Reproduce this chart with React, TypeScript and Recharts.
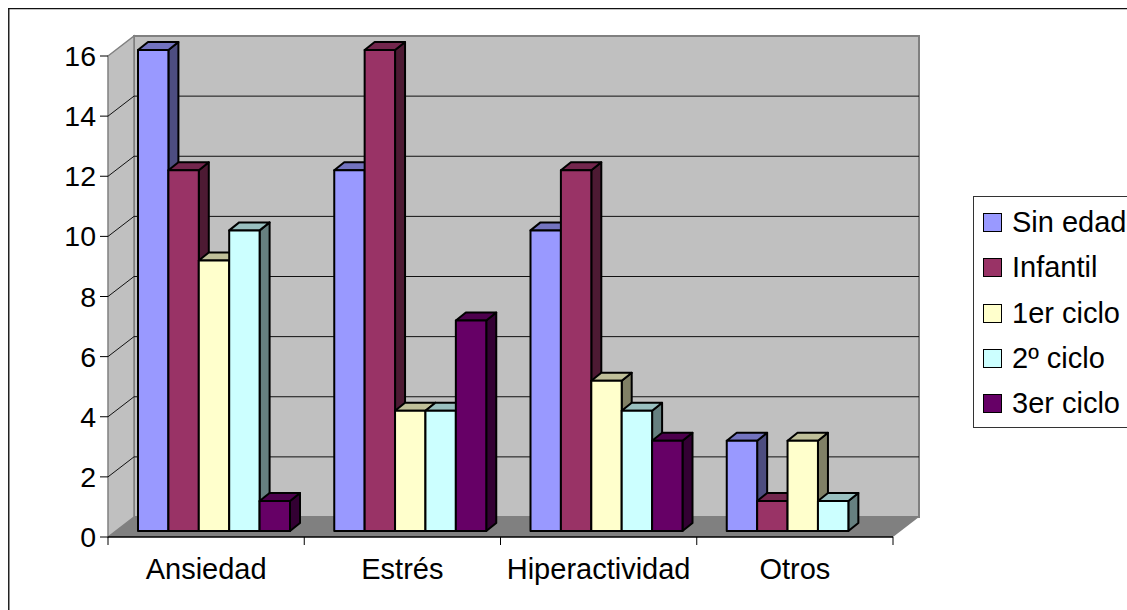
import React from 'react';
import { BarChart, Bar, CartesianGrid, XAxis, YAxis, Legend, Customized } from 'recharts';

const categories = ['Ansiedad', 'Estrés', 'Hiperactividad', 'Otros'];
const sinEdad = [16, 12, 10, 3];
const infantil = [12, 16, 12, 1];
const primerCiclo = [9, 4, 5, 3];
const segundoCiclo = [10, 4, 4, 1];
const tercerCiclo = [1, 7, 3, 0];
const yTicks = [0, 2, 4, 6, 8, 10, 12, 14, 16];

const seriesList = [
  { key: 'sinEdad', name: 'Sin edad', values: sinEdad, color: '#9999FF' },
  { key: 'infantil', name: 'Infantil', values: infantil, color: '#993366' },
  { key: 'primer', name: '1er ciclo', values: primerCiclo, color: '#FFFFCC' },
  { key: 'segundo', name: '2º ciclo', values: segundoCiclo, color: '#CCFFFF' },
  { key: 'tercer', name: '3er ciclo', values: tercerCiclo, color: '#660066' },
];

const chartData = categories.map((name, i) => {
  const row: any = { name };
  seriesList.forEach((s) => {
    row[s.key] = s.values[i];
  });
  return row;
});

const W = 1119;
const H = 602;
const FONT = '"Liberation Sans", Arial, sans-serif';
const margin = { top: 48, right: 234, bottom: 0, left: 0 };
const yAxisWidth = 100;
const xAxisHeight = 73;
// plot area = front plane of the 3d box
const plotL = margin.left + yAxisWidth;
const plotR = W - margin.right;
const plotT = margin.top;
const plotB = H - margin.bottom - xAxisHeight;
// how far the back wall sits from the front plane
const wallDx = 26;
const wallDy = -20;

function shade(hex: string, k: number) {
  const n = parseInt(hex.slice(1), 16);
  const r = Math.round(((n >> 16) & 255) * k);
  const g = Math.round(((n >> 8) & 255) * k);
  const b = Math.round((n & 255) * k);
  return `rgb(${r},${g},${b})`;
}

function Bar3D(props: any) {
  const { x, y, width, height, fill } = props;
  if (!height || height <= 0) return null;
  const fx = x + 8;
  const fy = y - 6;
  const d = 10;
  const e = 8;
  const r = fx + width;
  const b = fy + height;
  return (
    <g stroke="#000" strokeWidth={2} strokeLinejoin="round">
      <path d={`M${r} ${fy}L${r + d} ${fy - e}L${r + d} ${b - e}L${r} ${b}Z`} fill={shade(fill, 0.5)} />
      <path d={`M${fx} ${fy}L${fx + d} ${fy - e}L${r + d} ${fy - e}L${r} ${fy}Z`} fill={shade(fill, 0.75)} />
      <rect x={fx} y={fy} width={width} height={height} fill={fill} />
    </g>
  );
}

function Walls() {
  const step = (plotR - plotL) / categories.length;
  const edges = categories.map((_, i) => plotL + step * i).concat(plotR);
  return (
    <g>
      <line x1={0.5} y1={0} x2={0.5} y2={H} stroke="#222" strokeWidth={2} />
      <line x1={0} y1={0.5} x2={W} y2={0.5} stroke="#111" strokeWidth={1.5} />
      <rect
        x={plotL + wallDx}
        y={plotT + wallDy}
        width={plotR - plotL}
        height={plotB - plotT}
        fill="#C0C0C0"
        stroke="#808080"
        strokeWidth={2}
      />
      <path
        d={`M${plotL} ${plotT}L${plotL + wallDx} ${plotT + wallDy}L${plotL + wallDx} ${plotB + wallDy}L${plotL} ${plotB}Z`}
        fill="#C0C0C0"
        stroke="#808080"
        strokeWidth={1.5}
      />
      <path
        d={`M${plotL} ${plotB}L${plotL + wallDx} ${plotB + wallDy}L${plotR + wallDx} ${plotB + wallDy}L${plotR} ${plotB}Z`}
        fill="#808080"
      />
      {edges.map((x) => (
        <line key={x} x1={x} y1={plotB} x2={x} y2={plotB + 8} stroke="#000" />
      ))}
    </g>
  );
}

function GridLine3D(props: any) {
  const { x1, x2, y1 } = props;
  if (Math.abs(y1 - plotT) < 1 || Math.abs(y1 - plotB) < 1) return <g />;
  return (
    <path
      d={`M${x1} ${y1}L${x1 + wallDx} ${y1 + wallDy}L${x2 + wallDx} ${y1 + wallDy}`}
      fill="none"
      stroke="#111"
      strokeWidth={1}
    />
  );
}

function LegendBox(props: any) {
  const items = props.payload || [];
  return (
    <div
      style={{
        boxSizing: 'border-box',
        width: 180,
        height: 232,
        border: '1px solid #333',
        background: '#fff',
        paddingTop: 3,
      }}
    >
      {items.map((it: any) => (
        <div key={it.value} style={{ display: 'flex', alignItems: 'center', height: 45.3, fontFamily: FONT, fontSize: 29, color: '#000', whiteSpace: 'nowrap' }}>
          <span
            style={{
              display: 'inline-block',
              boxSizing: 'border-box',
              width: 19,
              height: 19,
              marginLeft: 9,
              marginRight: 10,
              background: it.color,
              border: '1.5px solid #000',
            }}
          />
          {it.value}
        </div>
      ))}
    </div>
  );
}

export default function App() {
  return (
    <div style={{ position: 'fixed', left: 8, top: 8, width: W, height: H, overflow: 'hidden', background: '#fff' }}>
      <BarChart width={W} height={H} data={chartData} margin={margin} barGap={0} barSize={30.4}>
        <Customized component={Walls} />
        <CartesianGrid vertical={false} horizontal={GridLine3D as any} zIndex={1} />
        <XAxis
          dataKey="name"
          height={xAxisHeight}
          interval={0}
          tickLine={false}
          axisLine={{ stroke: '#000', strokeWidth: 1.5 }}
          tick={{ fontFamily: FONT, fontSize: 29, fill: '#000' }}
          tickMargin={15}
        />
        <YAxis
          width={yAxisWidth}
          domain={[0, 16]}
          ticks={yTicks}
          interval={0}
          axisLine={false}
          tickLine={{ stroke: '#000' }}
          tickSize={8}
          tickMargin={4}
          tick={{ fontFamily: FONT, fontSize: 28.5, fill: '#000' }}
        />
        <Legend
          layout="vertical"
          align="center"
          verticalAlign="middle"
          itemSorter={null as any}
          content={<LegendBox />}
          wrapperStyle={{ left: 965, top: 188, width: 180, height: 232, margin: 0 }}
        />
        {seriesList.map((s) => (
          <Bar key={s.key} dataKey={s.key} name={s.name} fill={s.color} shape={<Bar3D />} isAnimationActive={false} />
        ))}
      </BarChart>
    </div>
  );
}
